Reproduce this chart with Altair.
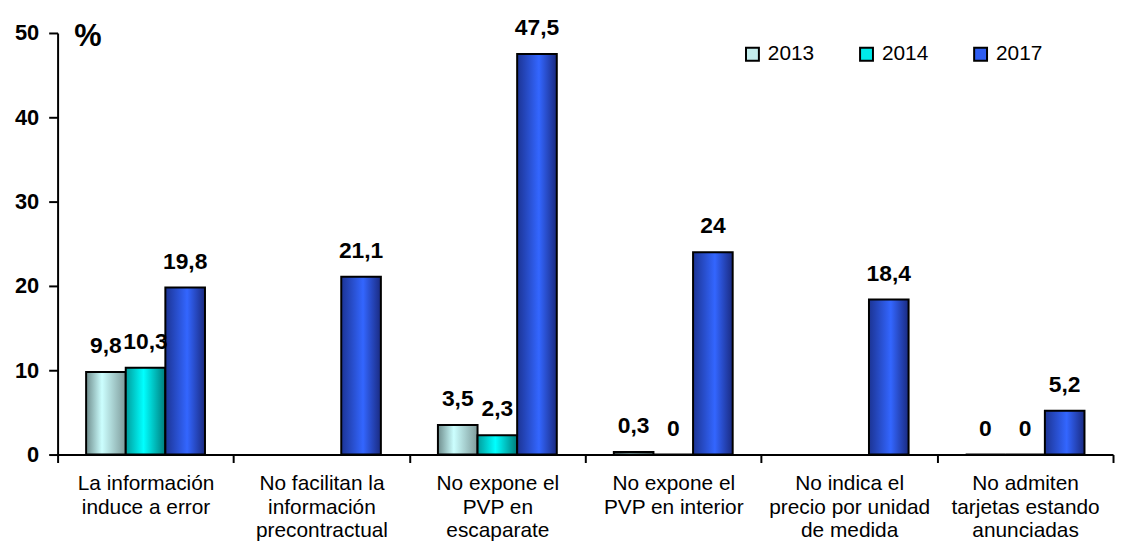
import altair as alt
import pandas as pd

categories = [
    "La información|induce a error",
    "No facilitan la|información|precontractual",
    "No expone el|PVP en|escaparate",
    "No expone el|PVP en interior",
    "No indica el|precio por unidad|de medida",
    "No admiten|tarjetas estando|anunciadas",
]
series = ["2013", "2014", "2017"]
v2013 = [9.8, None, 3.5, 0.3, None, 0]
v2014 = [10.3, None, 2.3, 0, None, 0]
v2017 = [19.8, 21.1, 47.5, 24, 18.4, 5.2]
y_ticks = [0, 10, 20, 30, 40, 50]

legend_colors = ["#c4eeee", "#00eaea", "#2f5ef2"]
gradients = {
    "2013": ["#6f8d8d", "#ccffff", "#7e9a9a"],
    "2014": ["#009c9c", "#00ffff", "#007c7c"],
    "2017": ["#1c3494", "#3366ff", "#1a2a80"],
}
stop_pos = {"2013": 0.4, "2014": 0.45, "2017": 0.55}


def fmt(v):
    return f"{v:g}".replace(".", ",")


rows = []
for s, vals in zip(series, [v2013, v2014, v2017]):
    for c, v in zip(categories, vals):
        if v is not None:
            rows.append({"cat": c, "series": s, "value": v, "label": fmt(v)})
df = pd.DataFrame(rows)

FONT = "Liberation Sans, Arial, sans-serif"

x_enc = alt.X(
    "cat:N",
    sort=categories,
    scale=alt.Scale(domain=categories, paddingInner=0, paddingOuter=0),
    axis=alt.Axis(
        title=None,
        labelExpr="split(datum.label, '|')",
        labelAngle=0,
        labelFont=FONT,
        labelFontSize=21,
        labelLineHeight=24,
        labelColor="black",
        labelPadding=10,
        labelLimit=0,
        labelBaseline="top",
        tickBand="extent",
        tickSize=8,
        tickWidth=2,
        tickColor="black",
        domainColor="black",
        domainWidth=2,
        grid=False,
    ),
)
xo_enc = alt.XOffset(
    "series:N",
    scale=alt.Scale(domain=series, paddingInner=0, paddingOuter=0.72),
)
y_enc = alt.Y(
    "value:Q",
    scale=alt.Scale(domain=[0, 50], nice=False, zero=True),
    axis=alt.Axis(
        values=y_ticks,
        title="%",
        titleAngle=0,
        titleX=30,
        titleY=4,
        titleAlign="center",
        titleBaseline="middle",
        titleFont=FONT,
        titleFontSize=31,
        titleFontWeight="bold",
        titleColor="black",
        labelFont=FONT,
        labelFontSize=22,
        labelFontWeight="bold",
        labelColor="black",
        labelPadding=10,
        tickSize=9,
        tickWidth=2,
        tickColor="black",
        domainColor="black",
        domainWidth=2,
        grid=False,
    ),
)

base = alt.Chart(df).encode(x=x_enc, xOffset=xo_enc, y=y_enc)

layers = []
for s in series:
    g = gradients[s]
    grad = alt.Gradient(
        gradient="linear",
        stops=[
            alt.GradientStop(offset=0, color=g[0]),
            alt.GradientStop(offset=stop_pos[s], color=g[1]),
            alt.GradientStop(offset=1, color=g[2]),
        ],
        x1=0, x2=1, y1=0, y2=0,
    )
    layers.append(
        base.transform_filter(alt.datum.series == s).mark_bar(
            fill=grad, stroke="black", strokeWidth=2
        )
    )

legend_layer = base.mark_square(opacity=0, size=10).encode(
    color=alt.Color(
        "series:N",
        scale=alt.Scale(domain=series, range=legend_colors),
        legend=alt.Legend(
            title=None,
            orient="none",
            legendX=690,
            legendY=11,
            direction="horizontal",
            symbolType="square",
            symbolSize=169,
            symbolOpacity=1,
            symbolStrokeColor="black",
            symbolStrokeWidth=2,
            labelFont=FONT,
            labelFontSize=21,
            labelColor="black",
            labelOffset=5,
            columnPadding=42,
            padding=0,
        ),
    )
)

text_layer = base.mark_text(
    font=FONT, fontSize=23, fontWeight="bold", color="black", dy=-19,
    baseline="alphabetic",
).encode(text="label:N")

chart = (
    alt.layer(*layers, text_layer, legend_layer)
    .properties(
        width=1064,
        height=425,
        padding={"left": 50, "top": 23, "right": 2, "bottom": 88},
        autosize=alt.AutoSizeParams(type="none"),
        background="white",
    )
    .configure_view(stroke=None)
)

chart.save("out.html", embed_options={"renderer": "svg", "actions": False})
